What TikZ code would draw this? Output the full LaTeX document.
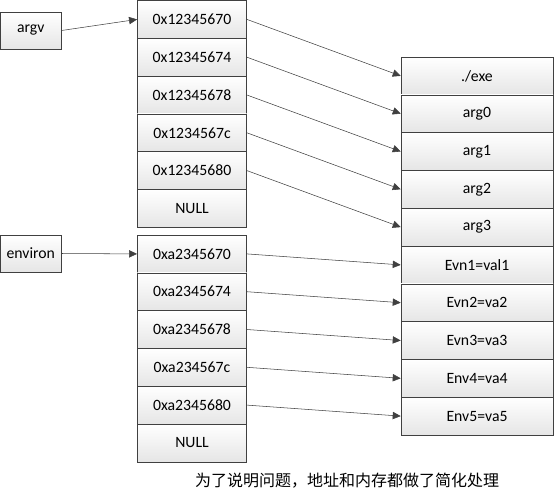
\documentclass[tikz,border=0pt]{standalone}
\usepackage{fontspec}
\setmainfont{Carlito}
\newfontfamily\cjk{Noto Sans CJK SC}
\usetikzlibrary{arrows.meta}

\begin{document}
\begin{tikzpicture}[x=0.75pt,y=-0.75pt,
                    cellND/.style={rectangle,
                                   draw=black!75,
                                   top color=white,
                                   bottom color=gray!20,
                                   minimum width=82pt,
                                   minimum height=28.35pt,
                                   inner sep=0pt,
                                   font=\fontsize{11.8}{14}\selectfont},
                    wideND/.style={cellND, minimum width=114pt},
                    varND/.style={cellND, minimum width=45.75pt, minimum height=27.75pt},
                    ptr/.style={-{Triangle[length=6pt,width=5.5pt]},
                                draw=black!75}]
    \useasboundingbox (0,0) rectangle (555,497);
    % pointer variables
    \node[varND](argv)    at (30.8,30.5)  {argv};
    \node[varND](environ) at (30.8,253.5) {environ};
    % argv array
    \node[cellND](a0) at (192,19.4)  {0x12345670};
    \node[cellND](a1) at (192,57.2)  {0x12345674};
    \node[cellND](a2) at (192,95)    {0x12345678};
    \node[cellND](a3) at (192,132.8) {0x1234567c};
    \node[cellND](a4) at (192,170.6) {0x12345680};
    \node[cellND](a5) at (192,208.4) {NULL};
    % environ array
    \node[cellND](e0) at (192,253.9) {0xa2345670};
    \node[cellND](e1) at (192,291.7) {0xa2345674};
    \node[cellND](e2) at (192,329.5) {0xa2345678};
    \node[cellND](e3) at (192,367.3) {0xa234567c};
    \node[cellND](e4) at (192,405.1) {0xa2345680};
    \node[cellND](e5) at (192,442.9) {NULL};
    % strings
    \node[wideND](s0) at (477,75.9)  {./exe};
    \node[wideND](s1) at (477,113.7) {arg0};
    \node[wideND](s2) at (477,151.5) {arg1};
    \node[wideND](s3) at (477,189.3) {arg2};
    \node[wideND](s4) at (477,227.1) {arg3};
    \node[wideND](s5) at (477,264.9) {Evn1=val1};
    \node[wideND](s6) at (477,302.7) {Evn2=va2};
    \node[wideND](s7) at (477,340.5) {Evn3=va3};
    \node[wideND](s8) at (477,378.3) {Env4=va4};
    \node[wideND](s9) at (477,416.1) {Env5=va5};
    \node(note) at (347,481) {\cjk\fontsize{12}{14}\selectfont 为了说明问题，地址和内存都做了简化处理};
    \path
        (argv.east)    edge [ptr] (a0.west)
        (environ.east) edge [ptr] (e0.west)
        (a0.east) edge [ptr] (s0.west)
        (a1.east) edge [ptr] (s1.west)
        (a2.east) edge [ptr] (s2.west)
        (a3.east) edge [ptr] (s3.west)
        (a4.east) edge [ptr] (s4.west)
        (e0.east) edge [ptr] (s5.west)
        (e1.east) edge [ptr] (s6.west)
        (e2.east) edge [ptr] (s7.west)
        (e3.east) edge [ptr] (s8.west)
        (e4.east) edge [ptr] (s9.west)
        ;
\end{tikzpicture}
\end{document}
